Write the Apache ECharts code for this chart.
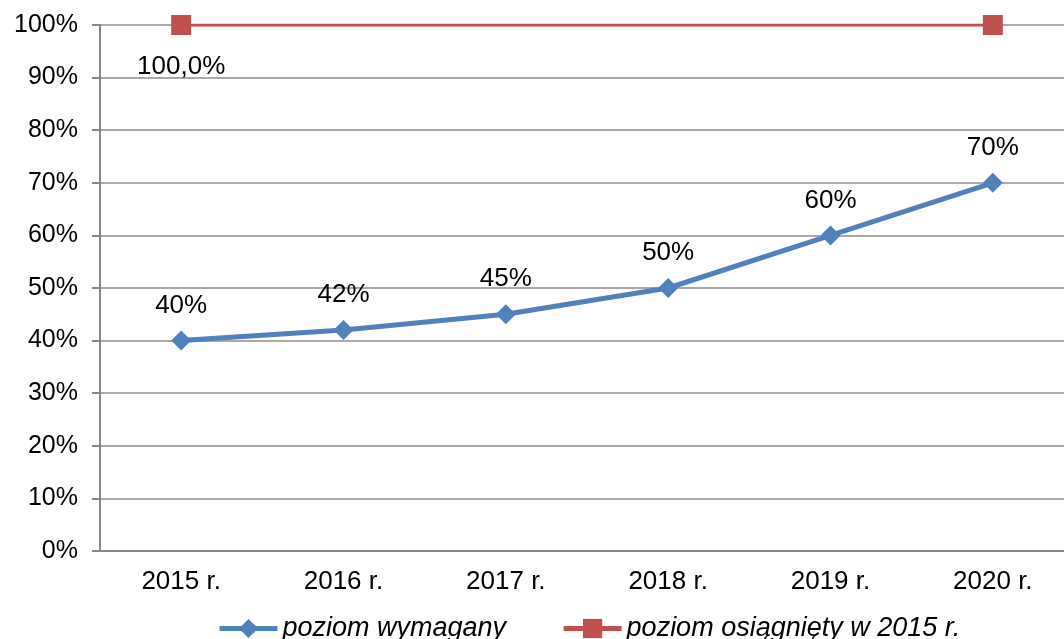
<!DOCTYPE html>
<html>
<head>
<meta charset="utf-8">
<script src="https://cdn.jsdelivr.net/npm/echarts@6/dist/echarts.min.js"></script>
<style>
  html, body { margin: 0; padding: 0; background: #fff; }
  #chart { width: 1064px; height: 639px; }
</style>
</head>
<body>
<div id="chart"></div>
<script>
// kategorie (lata)
var years = ['2015 r.', '2016 r.', '2017 r.', '2018 r.', '2019 r.', '2020 r.'];
// poziom wymagany, %
var required = [40, 42, 45, 50, 60, 70];
// poziom osiągnięty w 2015 r. - tylko punkty skrajne
var achieved = [100, null, null, null, null, 100];
var seriesNames = ['poziom wymagany', 'poziom osiągnięty w 2015 r.'];

var chart = echarts.init(document.getElementById('chart'));
var font = 'Liberation Sans, Arial, sans-serif';
var axisGray = '#868686';

var option = {
    animation: false,
    textStyle: { fontFamily: font },
    // plot area runs a bit past the right edge, like in the original
    grid: { left: 100, width: 974, top: 25, bottom: 88, containLabel: false, outerBoundsMode: 'none' },
    legend: {
        left: 212,
        top: 610,
        itemWidth: 58,
        itemHeight: 24,
        itemGap: 55,
        lineStyle: { width: 5 },
        textStyle: { fontSize: 27, fontStyle: 'italic', color: '#000', fontFamily: font },
        data: seriesNames
    },
    xAxis: {
        type: 'category',
        data: years,
        boundaryGap: true,
        axisLine: { lineStyle: { color: axisGray, width: 2 } },
        axisTick: { length: 8, lineStyle: { color: axisGray, width: 2 } },
        axisLabel: { fontSize: 26, color: '#000', margin: 18 }
    },
    yAxis: {
        type: 'value',
        min: 0,
        max: 100,
        interval: 10,
        axisLine: { show: true, lineStyle: { color: axisGray, width: 2 } },
        axisTick: { show: true, length: 8, lineStyle: { color: axisGray, width: 2 } },
        axisLabel: { fontSize: 25, color: '#000', margin: 22, formatter: '{value}%' },
        splitLine: { lineStyle: { color: '#8c8c8c', width: 1.5 } }
    },
    series: [
        {
            name: seriesNames[0],
            type: 'line',
            data: required,
            symbol: 'diamond',
            symbolSize: 20,
            lineStyle: { color: '#4F81BD', width: 5 },
            itemStyle: { color: '#4F81BD' },
            label: {
                show: true,
                position: 'top',
                distance: 12,
                fontSize: 26,
                color: '#000',
                formatter: '{c}%'
            },
            z: 3
        },
        {
            name: seriesNames[1],
            type: 'line',
            data: achieved,
            connectNulls: true,
            symbol: 'rect',
            symbolSize: 20,
            lineStyle: { color: '#C0504D', width: 3 },
            itemStyle: { color: '#C0504D' },
            label: {
                show: true,
                position: 'bottom',
                distance: 19,
                fontSize: 26,
                color: '#000',
                formatter: function (p) {
                    return p.dataIndex === 0 ? p.value.toFixed(1).replace('.', ',') + '%' : '';
                }
            },
            z: 2
        }
    ]
};

chart.setOption(option);
</script>
</body>
</html>
